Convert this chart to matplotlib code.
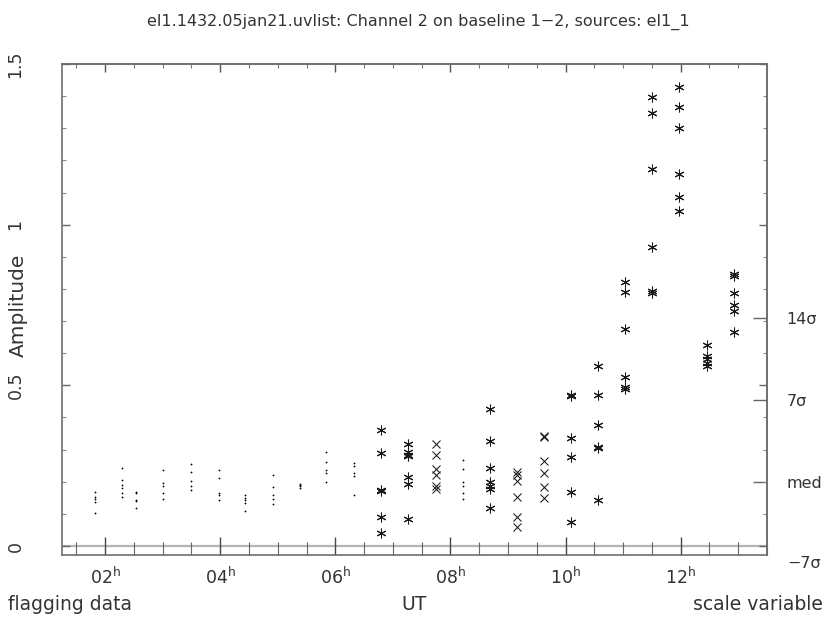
import matplotlib
matplotlib.use('Agg')
import matplotlib.pyplot as plt
import matplotlib.transforms as mtrans
from matplotlib.ticker import MultipleLocator, FixedLocator, FuncFormatter

title = "el1.1432.05jan21.uvlist: Channel 2 on baseline 1\u22122, sources: el1_1"

# UT (hours) of each scan column, amplitudes
dot_times = [1.82, 2.29, 2.53, 3.01, 3.49, 3.97, 4.43, 4.91, 5.38, 5.84, 6.32, 8.21]
dot_amps = [
    [0.167, 0.153, 0.147, 0.136, 0.104],
    [0.243, 0.206, 0.191, 0.180, 0.164, 0.154],
    [0.169, 0.164, 0.143, 0.140, 0.119],
    [0.238, 0.195, 0.187, 0.164, 0.146],
    [0.256, 0.230, 0.202, 0.188, 0.175],
    [0.238, 0.211, 0.166, 0.158, 0.143],
    [0.160, 0.150, 0.143, 0.133, 0.109],
    [0.220, 0.185, 0.159, 0.146, 0.132],
    [0.194, 0.190, 0.186, 0.182],
    [0.292, 0.261, 0.235, 0.226, 0.200],
    [0.259, 0.249, 0.226, 0.218, 0.160],
    [0.268, 0.240, 0.200, 0.187, 0.164, 0.145],
]

star_times = [6.79, 7.27, 8.68, 10.10, 10.57, 11.04, 11.51, 11.97, 12.45, 12.93]
star_amps = [
    [0.361, 0.290, 0.174, 0.171, 0.089, 0.040],
    [0.317, 0.291, 0.283, 0.280, 0.216, 0.192, 0.083],
    [0.427, 0.327, 0.242, 0.200, 0.187, 0.178, 0.119],
    [0.470, 0.466, 0.335, 0.278, 0.169, 0.076],
    [0.559, 0.470, 0.377, 0.309, 0.304, 0.143],
    [0.823, 0.792, 0.675, 0.525, 0.494, 0.489],
    [1.397, 1.348, 1.174, 0.929, 0.793, 0.788],
    [1.428, 1.367, 1.301, 1.158, 1.085, 1.041],
    [0.626, 0.590, 0.583, 0.569, 0.559],
    [0.846, 0.839, 0.787, 0.751, 0.730, 0.665],
]

cross_times = [7.74, 9.16, 9.62]
cross_amps = [
    [0.317, 0.283, 0.239, 0.221, 0.187, 0.178],
    [0.230, 0.221, 0.203, 0.152, 0.091, 0.060],
    [0.342, 0.338, 0.263, 0.228, 0.185, 0.149],
]

x_major_ticks = [2, 4, 6, 8, 10, 12]
y_major_ticks = [0, 0.5, 1, 1.5]
sigma_med = 0.1994
sigma_step = 0.0364
sigma_levels = [0, 7, 14]
sigma_labels = ['med', '7\u03c3', '14\u03c3']

TXT = '#333333'
FRAME = '#6e6e6e'

fig = plt.figure(figsize=(8.3, 6.19), dpi=100)
W, H = 830, 619
ax = fig.add_axes([62 / W, 1 - 555 / H, (767 - 62) / W, (555 - 64) / H])
ax.set_xlim(1.25, 13.5)
ax.set_ylim(-0.028, 1.5)

ax.axhline(0, color='#b4b4b4', lw=1.6, zorder=1)

def expand(times, amps):
    xs, ys = [], []
    for t, col in zip(times, amps):
        for a in col:
            xs.append(t)
            ys.append(a)
    return xs, ys

dx, dy = expand(dot_times, dot_amps)
ax.plot(dx, dy, ls='none', marker='o', ms=1.3, mew=0, color='black', zorder=3)
sx, sy = expand(star_times, star_amps)
ax.plot(sx, sy, ls='none', marker=(6, 2, 0), ms=7, mew=0.75, color='#1a1a1a', zorder=3)
cx, cy = expand(cross_times, cross_amps)
ax.plot(cx, cy, ls='none', marker='x', ms=6, mew=0.75, color='#1a1a1a', zorder=3)

for s in ax.spines.values():
    s.set_color(FRAME)
    s.set_linewidth(1.2)

# x axis (bottom)
ax.xaxis.set_major_locator(FixedLocator(x_major_ticks))
ax.xaxis.set_minor_locator(MultipleLocator(0.5))
ax.xaxis.set_major_formatter(FuncFormatter(lambda v, p: '%02d$^{\\mathrm{h}}$' % int(round(v))))
ax.tick_params(axis='x', which='major', direction='in', length=13, width=1.0,
               color='#444444', labelsize=12.5, labelcolor=TXT, pad=8, top=False)
ax.tick_params(axis='x', which='minor', direction='in', length=9.4, width=0.8,
               color='#666666', top=False)

# top ticks
top = ax.secondary_xaxis('top')
top.xaxis.set_major_locator(FixedLocator(x_major_ticks))
top.xaxis.set_minor_locator(MultipleLocator(0.5))
top.tick_params(axis='x', which='major', direction='in', length=5.8, width=1.0,
                color='#555555', labeltop=False)
top.tick_params(axis='x', which='minor', direction='in', length=2.9, width=0.8,
                color='#777777')
top.spines['top'].set_color(FRAME)
top.spines['top'].set_linewidth(1.2)

# y axis
ax.yaxis.set_major_locator(FixedLocator(y_major_ticks))
ax.yaxis.set_minor_locator(MultipleLocator(0.1))
ax.yaxis.set_major_formatter(FuncFormatter(lambda v, p: '%g' % v))
ax.tick_params(axis='y', which='major', direction='in', length=5.8, width=1.0,
               color='#666666', labelsize=12.5, labelcolor=TXT, pad=27,
               right=True, labelrotation=90)
ax.tick_params(axis='y', which='minor', direction='in', length=2.9, width=0.8,
               color='#888888', right=True)
for lab in ax.get_yticklabels():
    lab.set_va('center')

# sigma scale on the right
sig = ax.secondary_yaxis('right')
sig.yaxis.set_major_locator(FixedLocator([sigma_med + k * sigma_step for k in sigma_levels]))
sig.yaxis.set_minor_locator(FixedLocator([]))
sig.yaxis.set_major_formatter(FuncFormatter(
    lambda v, p: sigma_labels[p] if p is not None and p < len(sigma_labels) else ''))
sig.tick_params(axis='y', which='major', direction='in', length=10, width=1.0,
                color='#666666', labelsize=11.5, labelcolor=TXT, pad=14)
sig.spines['right'].set_color(FRAME)
sig.spines['right'].set_linewidth(1.2)
ax.text(1.0, sigma_med - 7 * sigma_step, '\u22127\u03c3',
        transform=ax.get_yaxis_transform() + mtrans.ScaledTranslation(20 / 100, 0, fig.dpi_scale_trans),
        fontsize=11.5, color=TXT, ha='left', va='center', clip_on=False)

fig.text(418 / W, 1 - 22 / H, title, ha='center', va='center', fontsize=11.5, color=TXT)
fig.text(18 / W, 1 - 305 / H, 'Amplitude', rotation=90, ha='center', va='center',
         fontsize=14.5, color=TXT)
fig.text(414 / W, 1 - 605 / H, 'UT', ha='center', va='center', fontsize=13.5, color=TXT)
fig.text(8 / W, 1 - 605 / H, 'flagging data', ha='left', va='center', fontsize=13.5, color=TXT)
fig.text(823 / W, 1 - 605 / H, 'scale variable', ha='right', va='center', fontsize=13.5, color=TXT)

fig.savefig('out.png', dpi=100, facecolor='white')
